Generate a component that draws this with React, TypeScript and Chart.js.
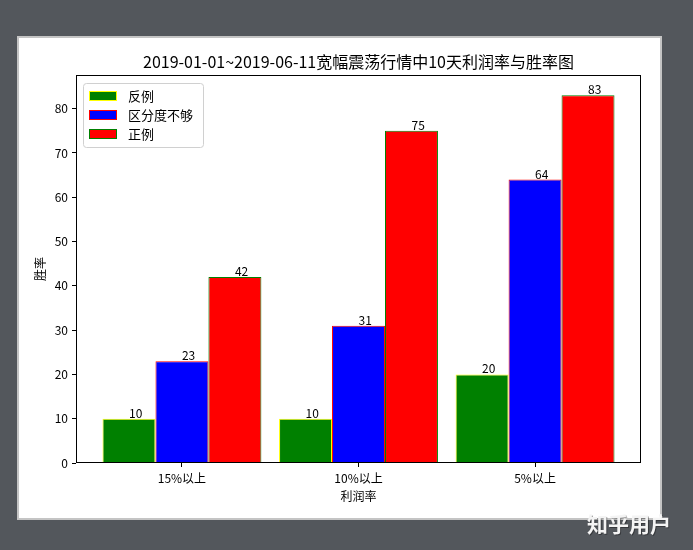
import React, { useEffect, useRef } from "react";
import { Chart, registerables } from "chart.js";

Chart.register(...registerables);

const categories = ["15%以上", "10%以上", "5%以上"];
const seriesNames = ["反例", "区分度不够", "正例"];
const negValues = [10, 10, 20];
const midValues = [23, 31, 64];
const posValues = [42, 75, 83];
const yTicks = [0, 10, 20, 30, 40, 50, 60, 70, 80];
const titleText = "2019-01-01~2019-06-11宽幅震荡行情中10天利润率与胜率图";
const xTitle = "利润率";
const yTitle = "胜率";
const watermark = "知乎用户";

const fillColors = ["#008000", "#0000ff", "#ff0000"];
const edgeColors = ["#ffff00", "#ff0000", "#008000"];

const FONT = '"Noto Sans CJK SC", "DejaVu Sans", sans-serif';

const decorPlugin = {
  id: "decor",
  beforeDraw(chart: any) {
    const ctx = chart.ctx;
    ctx.save();
    ctx.fillStyle = "#53575c";
    ctx.fillRect(0, 0, chart.width, chart.height);
    ctx.fillStyle = "#c4c4c4";
    ctx.fillRect(17, 36, 645, 484);
    ctx.fillStyle = "#ffffff";
    ctx.fillRect(19, 38, 641, 480);
    ctx.restore();
  },
  afterDraw(chart: any) {
    const ctx = chart.ctx;
    const a = chart.chartArea;
    ctx.save();
    // frame
    ctx.strokeStyle = "#000";
    ctx.lineWidth = 1;
    ctx.strokeRect(a.left + 0.5, a.top + 0.5, a.right - a.left - 1, a.bottom - a.top - 1);

    // bar value labels: left aligned at bar centre, baseline at value
    ctx.fillStyle = "#000";
    ctx.font = `12px ${FONT}`;
    ctx.textAlign = "left";
    ctx.textBaseline = "alphabetic";
    chart.data.datasets.forEach((ds: any, i: number) => {
      const meta = chart.getDatasetMeta(i);
      meta.data.forEach((bar: any, j: number) => {
        ctx.fillText(String(ds.data[j].y), bar.x, bar.y - 1);
      });
    });

    // title
    ctx.font = `16px ${FONT}`;
    ctx.textAlign = "center";
    ctx.textBaseline = "middle";
    ctx.fillText(titleText, (a.left + a.right) / 2, 62);

    // axis titles
    ctx.font = `12px ${FONT}`;
    ctx.fillText(xTitle, (a.left + a.right) / 2, 496);
    ctx.save();
    ctx.translate(40, (a.top + a.bottom) / 2);
    ctx.rotate(-Math.PI / 2);
    ctx.fillText(yTitle, 0, 0);
    ctx.restore();

    // legend
    const lx = 83, ly = 83, lw = 120, lh = 64;
    ctx.fillStyle = "rgba(255,255,255,0.8)";
    ctx.strokeStyle = "#d0d0d0";
    ctx.lineWidth = 1;
    ctx.beginPath();
    (ctx as any).roundRect(lx + 0.5, ly + 0.5, lw, lh, 3);
    ctx.fill();
    ctx.stroke();
    ctx.font = `13px ${FONT}`;
    ctx.textAlign = "left";
    ctx.textBaseline = "middle";
    seriesNames.forEach((name, i) => {
      const cy = 96 + i * 19;
      ctx.fillStyle = fillColors[i];
      ctx.fillRect(89, cy - 5, 28, 10);
      ctx.strokeStyle = edgeColors[i];
      ctx.strokeRect(89.5, cy - 4.5, 27, 9);
      ctx.fillStyle = "#000";
      ctx.fillText(name, 128, cy);
    });

    // watermark
    ctx.font = `bold 21px ${FONT}`;
    ctx.textAlign = "left";
    ctx.fillStyle = "rgba(0,0,0,0.35)";
    ctx.fillText(watermark, 588, 525);
    ctx.fillStyle = "#f4f4f4";
    ctx.fillText(watermark, 587, 524);
    ctx.restore();
  },
};

export default function App() {
  const ref = useRef<HTMLCanvasElement>(null);
  useEffect(() => {
    document.body.style.margin = "0";
    document.body.style.background = "#53575c";
    const toPts = (arr: number[]) => arr.map((v, i) => ({ x: i, y: v }));
    const series = [negValues, midValues, posValues];
    const chart = new Chart(ref.current!, {
      type: "bar",
      data: {
        datasets: series.map((vals, i) => ({
          label: seriesNames[i],
          data: toPts(vals),
          backgroundColor: fillColors[i],
          borderColor: edgeColors[i],
          borderWidth: 1,
          categoryPercentage: 0.9,
          barPercentage: 1,
        })),
      },
      options: {
        animation: false,
        responsive: false,
        maintainAspectRatio: false,
        layout: { padding: { left: 0, top: 75, right: 52, bottom: 0 } },
        plugins: { legend: { display: false }, title: { display: false }, tooltip: { enabled: false } },
        scales: {
          x: {
            type: "linear",
            offset: false,
            min: -0.6,
            max: 2.6,
            afterBuildTicks: (s: any) => {
              s.ticks = categories.map((_, i) => ({ value: i }));
            },
            afterFit: (s: any) => {
              s.height = 87;
            },
            ticks: {
              color: "#000",
              font: { family: FONT, size: 12 },
              padding: 4,
              maxRotation: 0,
              autoSkip: false,
              callback: (v: any) => categories[Math.round(Number(v))] ?? "",
            },
            grid: { display: true, offset: false, drawOnChartArea: false, color: "#000", tickLength: 4, tickWidth: 1 },
            border: { display: false },
          },
          y: {
            min: 0,
            max: 87.6,
            afterBuildTicks: (s: any) => {
              s.ticks = yTicks.map((v) => ({ value: v }));
            },
            afterFit: (s: any) => {
              s.width = 76;
            },
            ticks: {
              color: "#000",
              font: { family: FONT, size: 12 },
              padding: 4,
            },
            grid: { display: true, drawOnChartArea: false, color: "#000", tickLength: 4, tickWidth: 1 },
            border: { display: false },
          },
        },
      },
      plugins: [decorPlugin],
    });
    return () => chart.destroy();
  }, []);
  return <canvas ref={ref} width={693} height={550} style={{ display: "block", width: 693, height: 550 }} />;
}
